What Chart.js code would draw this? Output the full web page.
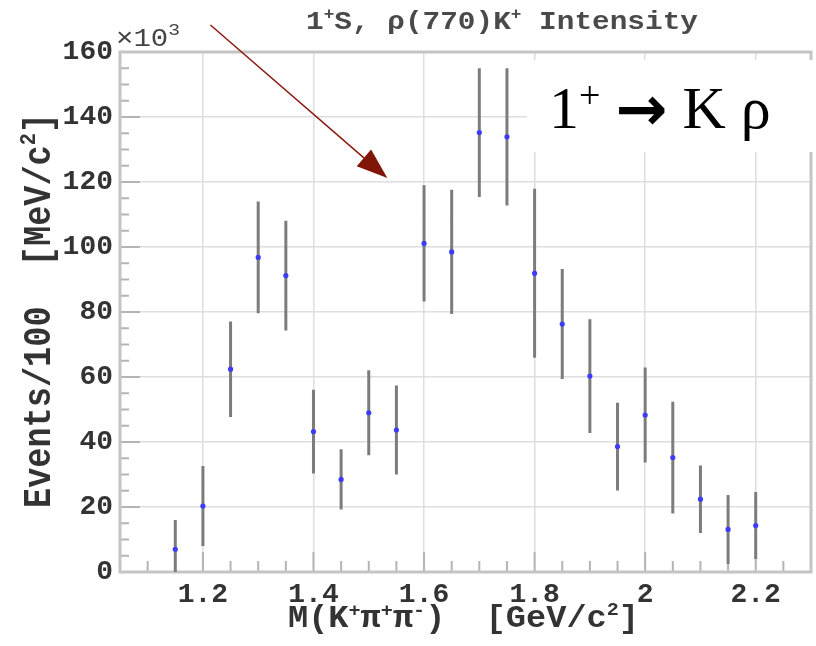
<!DOCTYPE html>
<html>
<head>
<meta charset="utf-8">
<script src="https://cdn.jsdelivr.net/npm/chart.js@4.4.1/dist/chart.umd.min.js"></script>
<style>
  html, body { margin: 0; padding: 0; background: #ffffff; }
  canvas { display: block; }
</style>
</head>
<body>
<canvas id="c" width="816" height="646"></canvas>
<script>
// Bin centres of M(K+ pi+ pi-) in GeV/c^2
const massBins = [1.15, 1.20, 1.25, 1.30, 1.35, 1.40, 1.45, 1.50, 1.55, 1.60, 1.65,
                  1.70, 1.75, 1.80, 1.85, 1.90, 1.95, 2.00, 2.05, 2.10, 2.15, 2.20];
// 1+S rho(770)K+ intensity, events per 100 MeV/c^2 (x10^3)
const intensity = [7.0, 20.3, 62.4, 96.8, 91.2, 43.2, 28.5, 49.0, 43.7, 101.1, 98.5,
                   135.2, 133.9, 91.9, 76.3, 60.3, 38.6, 48.3, 35.2, 22.4, 13.1, 14.3];
// Symmetric uncertainties on the intensity (x10^3)
const intensityErr = [9.0, 12.3, 14.7, 17.2, 16.9, 12.9, 9.3, 13.1, 13.7, 17.9, 19.1,
                      19.8, 21.1, 26.0, 16.9, 17.5, 13.5, 14.6, 17.2, 10.4, 10.6, 10.3];

const xTickValues = [1.2, 1.4, 1.6, 1.8, 2.0, 2.2];
const xTickLabels = ['1.2', '1.4', '1.6', '1.8', '2', '2.2'];
const yTickValues = [0, 20, 40, 60, 80, 100, 120, 140, 160];
const yTickLabels = ['0', '20', '40', '60', '80', '100', '120', '140', '160'];

const X_MIN = 1.05, X_MAX = 2.30, Y_MIN = 0, Y_MAX = 160;
const X_MINOR = 0.05, Y_MINOR = 5;

const MONO = '"Liberation Mono", "DejaVu Sans Mono", monospace';
const SERIF = '"Liberation Serif", "DejaVu Serif", serif';

// Draw a sequence of text runs (with optional superscripts) on one baseline.
function drawRuns(ctx, runs, o) {
  const sizes = runs.map(r => r.size || (r.sup ? o.size * 0.6 : o.size));
  const fonts = runs.map((r, i) => `${r.weight || o.weight || 'normal'} ${sizes[i]}px ${r.family || o.family}`);
  let widths = runs.map((r, i) => { ctx.font = fonts[i]; return ctx.measureText(r.t).width; });
  const natural = widths.reduce((a, b) => a + b, 0);
  const sx = o.width ? o.width / natural : 1;
  ctx.save();
  ctx.translate(o.x, o.y);
  if (o.rotate) ctx.rotate(o.rotate);
  ctx.scale(sx, 1);
  ctx.fillStyle = o.color || '#000';
  ctx.textBaseline = 'alphabetic';
  ctx.textAlign = 'left';
  let x = o.align === 'center' ? -natural / 2 : 0;
  runs.forEach((r, i) => {
    ctx.font = fonts[i];
    const dy = r.sup ? -(r.raise != null ? r.raise : o.size * 0.42) : (r.dy || 0);
    ctx.fillText(r.t, x, dy);
    x += widths[i];
  });
  ctx.restore();
}

// Error bars, inward tick marks and plot frame
const hepPlot = {
  id: 'hepPlot',
  beforeDatasetsDraw(chart) {
    const { ctx, chartArea: a, scales: { x, y } } = chart;
    ctx.save();
    // minor / major ticks pointing into the plot
    ctx.strokeStyle = '#b4b4b4';
    ctx.lineWidth = 2;
    ctx.beginPath();
    for (let i = 0; ; i++) {
      const v = +(X_MIN + i * X_MINOR).toFixed(4);
      if (v > X_MAX + 1e-9) break;
      const px = x.getPixelForValue(v);
      const major = xTickValues.some(t => Math.abs(t - v) < 1e-6);
      ctx.moveTo(px, a.bottom);
      ctx.lineTo(px, a.bottom - (major ? 20 : 11));
    }
    for (let i = 0; ; i++) {
      const v = Y_MIN + i * Y_MINOR;
      if (v > Y_MAX) break;
      const py = y.getPixelForValue(v);
      const major = yTickValues.includes(v);
      ctx.moveTo(a.left, py);
      ctx.lineTo(a.left + (major ? 20 : 9), py);
    }
    ctx.stroke();

    // frame
    ctx.strokeStyle = '#c4c4c4';
    ctx.lineWidth = 3;
    ctx.strokeRect(a.left, a.top, a.right - a.left, a.bottom - a.top);

    // vertical error bars
    ctx.beginPath();
    ctx.rect(a.left, a.top, a.right - a.left, a.bottom - a.top);
    ctx.clip();
    ctx.strokeStyle = '#7c7c7c';
    ctx.lineWidth = 3;
    ctx.beginPath();
    massBins.forEach((m, i) => {
      const px = x.getPixelForValue(m);
      ctx.moveTo(px, y.getPixelForValue(intensity[i] + intensityErr[i]));
      ctx.lineTo(px, y.getPixelForValue(intensity[i] - intensityErr[i]));
    });
    ctx.stroke();
    ctx.restore();
  },
  afterDraw(chart) {
    const { ctx, chartArea: a, scales: { x, y } } = chart;

    // dark red pointer arrow
    const x0 = x.getPixelForValue(1.2136), y0 = y.getPixelForValue(168.3);
    const x1 = x.getPixelForValue(1.5336), y1 = y.getPixelForValue(121.2);
    const ang = Math.atan2(y1 - y0, x1 - x0);
    const headLen = 31, headHalf = 11;
    const bx = x1 - headLen * Math.cos(ang), by = y1 - headLen * Math.sin(ang);
    ctx.save();
    ctx.strokeStyle = '#8a1a10';
    ctx.fillStyle = '#801608';
    ctx.lineWidth = 1.5;
    ctx.beginPath();
    ctx.moveTo(x0, y0);
    ctx.lineTo(bx, by);
    ctx.stroke();
    ctx.beginPath();
    ctx.moveTo(x1, y1);
    ctx.lineTo(bx + headHalf * Math.sin(ang), by - headHalf * Math.cos(ang));
    ctx.lineTo(bx - headHalf * Math.sin(ang), by + headHalf * Math.cos(ang));
    ctx.closePath();
    ctx.fill();

    // white label box
    ctx.fillStyle = '#ffffff';
    ctx.fillRect(527, 60, 816 - 527, 92);
    ctx.restore();

    drawRuns(ctx, [
      { t: '1' },
      { t: '+', sup: true, size: 38, raise: 20 },
      { t: ' ' },
      { t: '\u2192', family: '"DejaVu Sans", sans-serif', weight: 'bold', size: 62, dy: 2 },
      { t: ' K \u03C1' }
    ], { x: 549, y: 128, size: 60, family: SERIF, color: '#000' });

    // plot title
    drawRuns(ctx, [
      { t: '1' }, { t: '+', sup: true, raise: 10 }, { t: 'S, \u03C1(770)K' },
      { t: '+', sup: true, raise: 10 }, { t: ' Intensity' }
    ], { x: 306, y: 29, size: 26, weight: 'bold', family: MONO, color: '#4a4a4a', width: 392 });

    // exponent of the y axis
    drawRuns(ctx, [{ t: '\u00D710' }, { t: '3', sup: true, raise: 11, size: 17 }],
      { x: 116, y: 46, size: 25, family: MONO, color: '#444', width: 64 });

    // x axis title
    drawRuns(ctx, [
      { t: 'M(K' }, { t: '+', sup: true, raise: 11 }, { t: '\u03C0' },
      { t: '+', sup: true, raise: 11 }, { t: '\u03C0' }, { t: '-', sup: true, raise: 11 },
      { t: ')  [GeV/c' }, { t: '2', sup: true, raise: 12 }, { t: ']' }
    ], { x: 288, y: 627, size: 31, weight: 'bold', family: MONO, color: '#333', width: 351 });

    // y axis title
    drawRuns(ctx, [
      { t: 'Events/100  [MeV/c' }, { t: '2', sup: true, raise: 15 }, { t: ']' }
    ], { x: 50, y: 310.5, size: 38, weight: 'bold', family: MONO, color: '#333',
         width: 395, align: 'center', rotate: -Math.PI / 2 });
  }
};

const points = massBins.map((m, i) => ({ x: m, y: intensity[i] }));

new Chart(document.getElementById('c'), {
  type: 'scatter',
  data: {
    datasets: [{
      data: points,
      pointRadius: 2.6,
      pointBorderWidth: 0,
      pointBackgroundColor: '#3c3cff',
      pointHoverRadius: 2.6
    }]
  },
  options: {
    responsive: false,
    animation: false,
    devicePixelRatio: 1,
    events: [],
    layout: { padding: { left: 0, top: 52, right: 5, bottom: 0 } },
    plugins: { legend: { display: false }, tooltip: { enabled: false }, title: { display: false } },
    scales: {
      x: {
        type: 'linear',
        min: X_MIN, max: X_MAX,
        afterBuildTicks: s => { s.ticks = xTickValues.map(v => ({ value: v })); },
        afterFit: s => { s.height = 74; },
        border: { display: false },
        grid: { color: '#dedede', lineWidth: 1.5, drawTicks: false },
        ticks: {
          padding: 6,
          color: '#333',
          font: { family: MONO, size: 28, weight: 'bold' },
          callback: (v, i) => xTickLabels[i]
        }
      },
      y: {
        min: Y_MIN, max: Y_MAX,
        afterBuildTicks: s => { s.ticks = yTickValues.map(v => ({ value: v })); },
        afterFit: s => { s.width = 120; },
        border: { display: false },
        grid: { color: '#dedede', lineWidth: 1.5, drawTicks: false },
        ticks: {
          padding: 7,
          color: '#333',
          font: { family: MONO, size: 28, weight: 'bold' },
          callback: (v, i) => yTickLabels[i]
        }
      }
    }
  },
  plugins: [hepPlot]
});
</script>
</body>
</html>
